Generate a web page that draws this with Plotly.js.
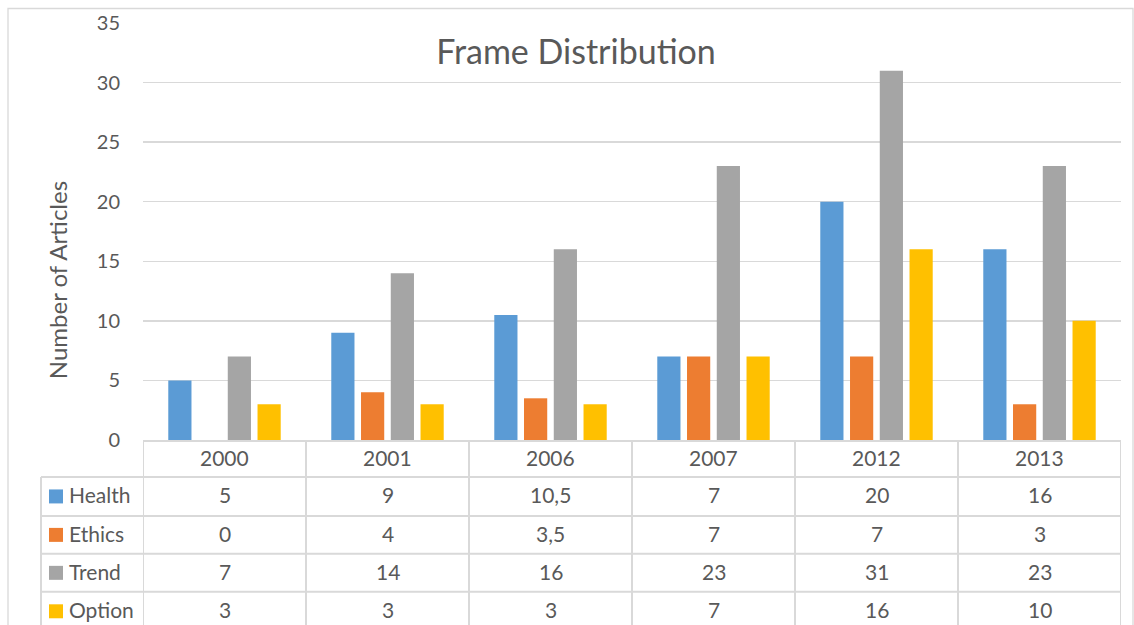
<!DOCTYPE html>
<html><head><meta charset="utf-8">
<script src="https://cdn.plot.ly/plotly-3.0.1.min.js"></script>
<style>html,body{margin:0;padding:0;background:#fff;}#chart{width:1134px;height:625px;}</style>
</head><body><div id="chart"></div>
<script>
const years = ['2000','2001','2006','2007','2012','2013'];
const seriesNames = ['Health','Ethics','Trend','Option'];
const health = [5, 9, 10.5, 7, 20, 16];
const ethics = [0, 4, 3.5, 7, 7, 3];
const trend = [7, 14, 16, 23, 31, 23];
const option = [3, 3, 3, 7, 16, 10];
const tableLabels = {
  Health: ['5','9','10,5','7','20','16'],
  Ethics: ['0','4','3,5','7','7','3'],
  Trend: ['7','14','16','23','31','23'],
  Option: ['3','3','3','7','16','10']
};
const colors = ['#5B9BD5','#ED7D31','#A5A5A5','#FFC000'];
const allSeries = [health, ethics, trend, option];

const W = 1134, H = 625;
const L = 143, R = 1121, T = 22.5, B = 440;
const FONT = 'Lato, "Open Sans", sans-serif';
const TXT = '#595959';
const GRID = '#D9D9D9';
const FS = 21;
const py = v => (B - v) / (B - T);
const px = v => (v - L) / (R - L);

const traces = allSeries.map((s, i) => ({
  type: 'bar', name: seriesNames[i], x: years, y: s,
  marker: {color: colors[i], line: {width: 0}}, hoverinfo: 'x+y+name'
}));

const shapes = [];
const annotations = [];
shapes.push({type:'rect', xref:'paper', yref:'paper', x0:px(8), x1:px(1133), y0:py(700), y1:py(8), line:{color:GRID, width:1.3}, layer:'below'});
const rowY = [441, 477, 516, 554, 592, 631];
const n = years.length;
shapes.push({type:'line', xref:'x', yref:'paper', x0:-0.5, x1:n-0.5, y0:py(rowY[0]), y1:py(rowY[0]), line:{color:GRID, width:2}});
for (let r = 1; r < rowY.length; r++) {
  shapes.push({type:'line', xref:'paper', yref:'paper', x0:px(41), x1:1, y0:py(rowY[r]), y1:py(rowY[r]), line:{color:GRID, width:2}});
}
for (let c = 0; c <= n; c++) {
  shapes.push({type:'line', xref:'x', yref:'paper', x0:c-0.5, x1:c-0.5, y0:py(rowY[0]), y1:py(rowY[5]), line:{color:GRID, width:2}});
}
shapes.push({type:'line', xref:'paper', yref:'paper', x0:px(41), x1:px(41), y0:py(rowY[1]), y1:py(rowY[5]), line:{color:GRID, width:2}});

const TEXT_SHIFT = 1.5;
years.forEach((y, c) => {
  annotations.push({xref:'x', yref:'paper', x:c, y:py((rowY[0]+rowY[1])/2 - TEXT_SHIFT), text:y, showarrow:false, xanchor:'center', yanchor:'middle', font:{family:FONT, size:FS, color:TXT}});
});
seriesNames.forEach((nm, r) => {
  const yc = (rowY[r+1] + rowY[r+2]) / 2;
  shapes.push({type:'rect', xref:'paper', yref:'paper', x0:px(49), x1:px(63), y0:py(yc-7), y1:py(yc+7), fillcolor:colors[r], line:{width:0}});
  annotations.push({xref:'paper', yref:'paper', x:px(67), y:py(yc - TEXT_SHIFT), text:nm, showarrow:false, xanchor:'left', yanchor:'middle', font:{family:FONT, size:FS, color:TXT}});
  tableLabels[nm].forEach((v, c) => {
    annotations.push({xref:'x', yref:'paper', x:c, y:py(yc - TEXT_SHIFT), text:v, showarrow:false, xanchor:'center', yanchor:'middle', font:{family:FONT, size:FS, color:TXT}});
  });
});
annotations.push({xref:'paper', yref:'paper', x:px(57), y:py(280), text:'Number of Articles', textangle:-90, showarrow:false, xanchor:'center', yanchor:'middle', font:{family:FONT, size:24, color:TXT}});

const layout = {
  width: W, height: H,
  margin: {l: L, r: W - R, t: T, b: H - B, pad: 0},
  paper_bgcolor: '#fff', plot_bgcolor: '#fff',
  title: {text: 'Frame Distribution', xref: 'container', x: 576/W, xanchor: 'center', yref: 'container', y: 1 - 52/H, yanchor: 'middle', font: {family: FONT, size: 34, color: TXT}},
  showlegend: false,
  barmode: 'group', bargap: 0.27, bargroupgap: 0.22,
  xaxis: {type: 'category', showticklabels: false, showgrid: false, zeroline: false, showline: false, ticks: '', range: [-0.5, n - 0.5]},
  yaxis: {range: [0, 35], dtick: 5, tick0: 0, showgrid: true, gridcolor: GRID, gridwidth: 1.5, zeroline: false, showline: false, ticks: '', ticklabelstandoff: 22, tickfont: {family: FONT, size: 20, color: TXT}},
  shapes: shapes, annotations: annotations
};
Plotly.newPlot('chart', traces, layout, {displayModeBar: false, staticPlot: true});
</script></body></html>
